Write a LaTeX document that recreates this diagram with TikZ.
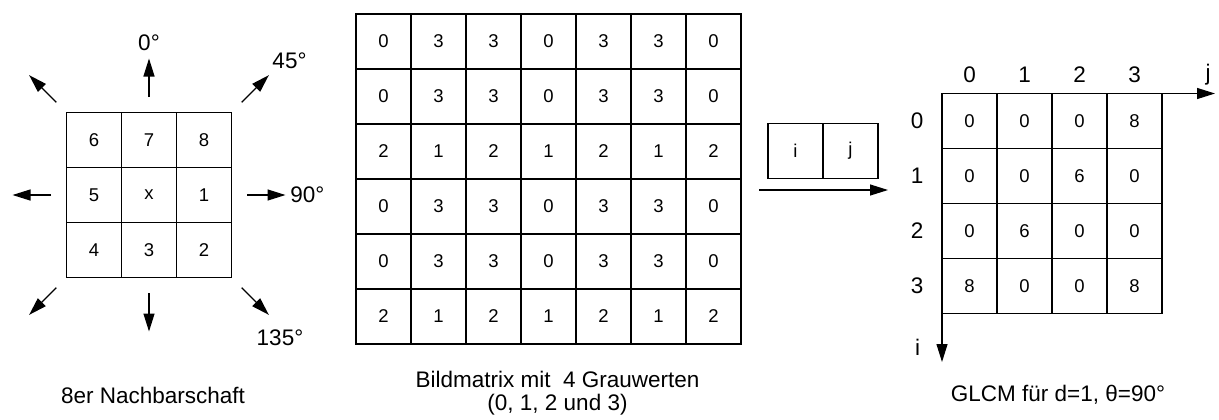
\documentclass[tikz,border=0pt]{standalone}
\usepackage{fontspec}
\setmainfont{Liberation Sans}
\usetikzlibrary{arrows.meta,positioning,calc}

\begin{document}
\begin{tikzpicture}[x=0.5pt,y=-0.5pt,font=\fontsize{9.25}{11}\selectfont,>={Triangle[length=9pt,width=5.5pt]}]
\tikzset{cell/.style={draw,line width=0.6pt,minimum size=27.5pt,inner sep=0pt}, flow/.style={->,line width=0.6pt}, big/.style={font=\fontsize{11.25}{11.2}\selectfont,inner sep=0pt,align=center}}
\useasboundingbox (0,0) rectangle (1219,419);
% 8er Nachbarschaft
\foreach \v [count=\k from 0] in {6,7,8,5,x,1,4,3,2}
  \node[cell] (nb\k) at ({94+55*mod(\k,3)},{140+55*div(\k,3)}) {\v};
\foreach \a/\r in {0/98,45/131,90/98,135/131,180/98,225/131,270/98,315/131}
  \draw[flow] ($(nb4)+(\a:\r)$) -- ($(nb4)+(\a:{\r+38.5})$);
\node[big] (deg0) at (149,43) {0°};
\node[big] (deg45) at (289.5,61) {45°};
\node[big,anchor=west] (deg90) at (290,194.5) {90°};
\node[big] (deg135) at (280,338) {135°};
\node[big] (nbcap) at (153,395) {8er Nachbarschaft};
% Bildmatrix
\foreach \row [count=\r from 0] in {{0,3,3,0,3,3,0},{0,3,3,0,3,3,0},{2,1,2,1,2,1,2},{0,3,3,0,3,3,0},{0,3,3,0,3,3,0},{2,1,2,1,2,1,2}}
  \foreach \v [count=\c from 0] in \row
    \node[cell] (bm\r\c) at ({383.5+55*\c},{41.5+55*\r}) {\v};
\node[big] (bmcap) at (557.5,393) {Bildmatrix mit\ \ 4 Grauwerten\\(0, 1, 2 und 3)};
% Pixelpaar
\node[cell] (pi) at (795.5,151) {i};
\node[cell] (pj) at (850.5,151) {j};
\coordinate (pa) at (759,190);
\coordinate (pb) at (888,190);
\draw[flow] (pa) -- (pb);
% GLCM
\foreach \row [count=\r from 0] in {{0,0,0,8},{0,0,6,0},{0,6,0,0},{8,0,0,8}}
  \foreach \v [count=\c from 0] in \row
    \node[cell] (gl\r\c) at ({969.5+55*\c},{121+55*\r}) {\v};
\foreach \k in {0,...,3} {
  \node[big] (colj\k) at ({969.5+55*\k},75) {\k};
  \node[big] (rowi\k) at (917,{121+55*\k}) {\k};
}
\coordinate (org) at (942,93.5);
\coordinate (jtip) at (1215,93.5);
\coordinate (itip) at (942,362);
\draw[flow] (org) -- (jtip);
\draw[flow] (org) -- (itip);
\node[big] (jlab) at (1208,75) {j};
\node[big] (ilab) at (917.5,347) {i};
\node[big] (glcap) at (1058,395) {GLCM für d=1, θ=90°};
\end{tikzpicture}
\end{document}
